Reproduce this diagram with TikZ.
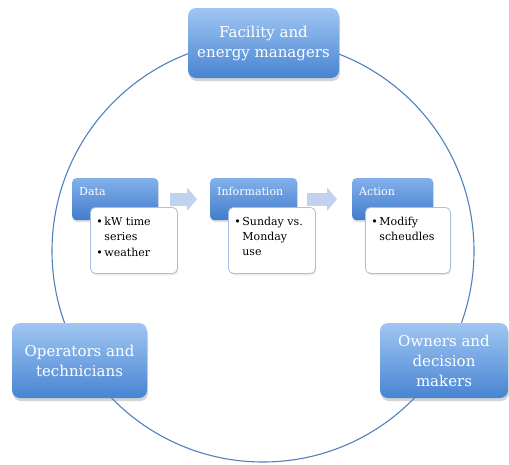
\documentclass[tikz,border=0pt]{standalone}
\usepackage{fontspec}
\setmainfont{DejaVu Serif}
\usetikzlibrary{arrows.meta,shadows}

\definecolor{ringblue}{RGB}{79,129,189}
\definecolor{boxtop}{RGB}{160,198,242}
\definecolor{boxbot}{RGB}{72,132,210}
\definecolor{headtop}{RGB}{130,176,234}
\definecolor{headbot}{RGB}{66,124,204}
\definecolor{bodyline}{RGB}{170,192,220}
\definecolor{flowblue}{RGB}{192,210,238}

\newcommand{\itm}[1]{\par\noindent\hangindent=8pt\hangafter=1\makebox[8pt][l]{\textbullet}#1\par\vspace{1pt}}

\begin{document}
\begin{tikzpicture}[x=1pt,y=-1pt,
    rolebox/.style={rounded corners=8pt,shading=axis,top color=boxtop,bottom color=boxbot,
        draw=none,text=white,align=center,font=\fontsize{15}{20}\selectfont,
        drop shadow={opacity=0.35,shadow xshift=1pt,shadow yshift=-3pt}},
    headbox/.style={rounded corners=4pt,shading=axis,top color=headtop,bottom color=headbot,
        draw=none,anchor=north west,minimum width=#1,minimum height=42pt,
        drop shadow={opacity=0.25,shadow xshift=1pt,shadow yshift=-2pt}},
    bodybox/.style={rounded corners=5pt,fill=white,draw=bodyline,line width=0.8pt,
        anchor=north west,inner xsep=6pt,inner ysep=10pt,font=\fontsize{11}{15}\selectfont,
        drop shadow={opacity=0.15,shadow xshift=1pt,shadow yshift=-2pt}},
    headtext/.style={anchor=north west,text=white,font=\fontsize{11}{14}\selectfont,
        inner sep=0pt,xshift=7pt,yshift=-9pt},
    flow/.style={flowblue,line width=13pt,-{Triangle[length=10pt,width=23pt]}}]

    \useasboundingbox (0,0) rectangle (509,464);

    % Ring
    \draw[ringblue,line width=1.1pt] (263,251) circle[radius=211pt];

    % Roles
    \node[rolebox,minimum width=151pt,minimum height=70pt] (managers) at (263.5,43)
        {Facility and\\energy managers};
    \node[rolebox,minimum width=135pt,minimum height=75pt] (operators) at (79.5,360.5)
        {Operators and\\technicians};
    \node[rolebox,minimum width=128pt,minimum height=75pt] (owners) at (444,360.5)
        {Owners and\\decision\\makers};

    % Steps
    \node[headbox=86pt,label={[headtext]north west:Data}] (data) at (72,178) {};
    \node[headbox=87pt,label={[headtext]north west:Information}] (info) at (210,178) {};
    \node[headbox=81pt,label={[headtext]north west:Action}] (action) at (352,178) {};

    \node[bodybox] (databody) at (90,207)
        {\parbox[t][46pt][t]{75pt}{\itm{kW time\\series}\itm{weather}}};
    \node[bodybox] (infobody) at (228,207)
        {\parbox[t][46pt][t]{75pt}{\itm{Sunday vs.\\Monday\\use}}};
    \node[bodybox] (actionbody) at (365,207)
        {\parbox[t][46pt][t]{73pt}{\itm{Modify\\scheudles}}};

    % Flow arrows
    \draw[flow,shorten <=12pt,shorten >=13pt] (data.east) -- (info.west);
    \draw[flow,shorten <=10pt,shorten >=15pt] (info.east) -- (action.west);
\end{tikzpicture}
\end{document}
